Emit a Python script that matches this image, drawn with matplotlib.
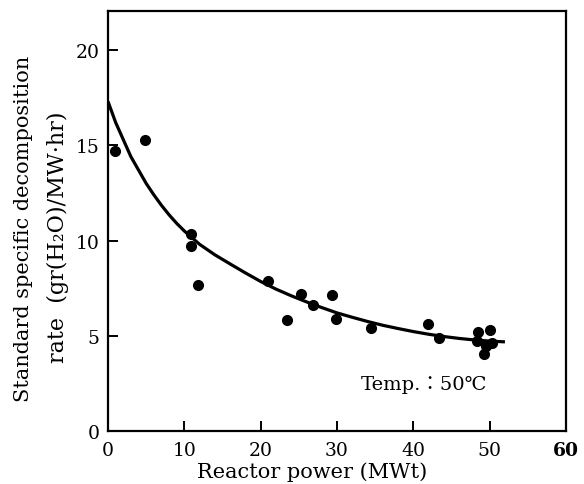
import matplotlib
matplotlib.use("Agg")
import matplotlib.pyplot as plt

# Measured decomposition rates
power = [0.9, 4.8, 10.9, 10.9, 11.8, 21.0, 23.4, 25.3, 26.9, 29.4, 29.9, 34.4,
         41.9, 43.4, 48.5, 50.0, 48.4, 49.5, 49.2, 50.3]
rate = [14.68, 15.28, 10.34, 9.70, 7.68, 7.89, 5.85, 7.18, 6.63, 7.14, 5.90, 5.42,
        5.62, 4.87, 5.18, 5.30, 4.75, 4.45, 4.05, 4.62]

# Trend curve drawn through the data
curve_x = [0, 1, 2, 3, 4, 5, 6, 7, 8, 9, 10, 12, 14, 16, 18, 20, 22, 24, 26, 28,
           30, 32, 34, 36, 38, 40, 42, 44, 46, 48, 50, 52]
curve_y = [17.3, 16.2, 15.3, 14.4, 13.7, 13.0, 12.4, 11.85, 11.35, 10.9, 10.5,
           9.8, 9.25, 8.77, 8.3, 7.85, 7.45, 7.1, 6.78, 6.48, 6.2, 5.97, 5.75,
           5.55, 5.38, 5.22, 5.08, 4.96, 4.86, 4.78, 4.72, 4.68]

x_ticks = [0, 10, 20, 30, 40, 50, 60]
y_ticks = [0, 5, 10, 15, 20]

serif = ["DejaVu Serif", "Noto Sans CJK JP"]

W, H = 584, 485
fig = plt.figure(figsize=(W / 100, H / 100), dpi=100)
ax = fig.add_axes([108 / W, 1 - 432 / H, (566 - 108) / W, (432 - 12) / H])

ax.plot(curve_x, curve_y, color="black", lw=2.3, solid_capstyle="butt",
        solid_joinstyle="round")
ax.plot(power, rate, "o", color="black", ms=7, mec="black")

ax.set_xlim(0, 60)
ax.set_ylim(0, 22.05)
ax.set_xticks(x_ticks)
ax.set_yticks(y_ticks)
ax.set_xticklabels([str(t) for t in x_ticks], family=serif, fontsize=13.5)
ax.set_yticklabels([str(t) for t in y_ticks], family=serif, fontsize=13.5)
ax.get_xticklabels()[-1].set_fontweight("bold")
ax.tick_params(axis="both", direction="in", length=7, width=1.4, color="black")
ax.tick_params(axis="x", pad=7)
ax.tick_params(axis="y", pad=6)
for s in ax.spines.values():
    s.set_linewidth(1.6)
    s.set_color("black")

fig.text(24 / W, 1 - 229 / H, "Standard specific decomposition",
         rotation=90, ha="center", va="center", family=serif, fontsize=15)
fig.text(58 / W, 1 - 237 / H, "rate  (gr(H\u2082O)/MW\u00b7hr)",
         rotation=90, ha="center", va="center", family=serif, fontsize=16)
fig.text(312 / W, 3 / H, "Reactor power (MWt)",
         ha="center", va="bottom", family=serif, fontsize=15)
ax.text(41.4, 2.45, "Temp.\uff1a50\u2103",
        ha="center", va="center", family=serif, fontsize=14)

fig.savefig("out.png", dpi=100)
